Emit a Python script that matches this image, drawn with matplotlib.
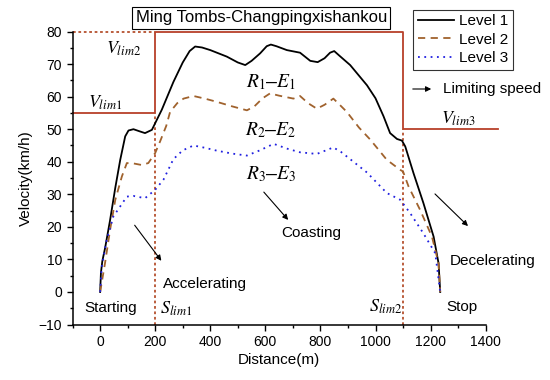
import matplotlib
matplotlib.use("Agg")
import matplotlib.pyplot as plt
from matplotlib.ticker import MultipleLocator

plt.rcParams['font.family'] = ['Liberation Sans', 'DejaVu Sans']
plt.rcParams['mathtext.fontset'] = 'stix'

# Data
x1 = [0, 3, 8, 18, 36, 55, 73, 91, 103, 121, 145, 163, 188, 206, 224, 266, 300, 325, 345, 370, 400, 460, 500,
      527, 550, 581, 605, 620, 640, 678, 726, 763, 790, 815, 835, 850, 870, 908, 969, 1000, 1029, 1053, 1078,
      1096, 1108, 1138, 1174, 1211, 1229, 1235]
y1 = [0, 6, 9.5, 13.5, 22, 32, 40.6, 47.8, 49.6, 50, 49.3, 48.8, 49.8, 52.9, 56, 64.5, 70.5, 74, 75.4, 75.1, 74.3, 72.3, 70.5,
      69.7, 71, 73.3, 75.5, 76, 75.5, 74.3, 73.5, 71, 70.6, 71.8, 73.5, 74, 72.5, 69.7, 63.5, 59.5, 54, 48.8, 47,
      46.5, 44.7, 36.5, 27.3, 17, 8.8, 0]

x2 = [0, 10, 18, 36, 55, 79, 97, 120, 151, 175, 200, 218, 240, 254, 280, 303, 339, 380, 424, 480, 533, 560, 590,
      617, 650, 702, 726, 755, 787, 815, 847, 870, 896, 940, 981, 1041, 1090, 1100, 1120, 1162, 1205, 1229, 1235]
y2 = [0, 5, 9, 19, 28.3, 35.5, 39.6, 39.5, 39, 39.6, 42.7, 46.3, 51, 55.3, 58, 59.4, 60.2, 59.4, 58.4, 57, 55.8, 57, 59.5,
      61, 60.3, 59.4, 60.2, 58, 56.3, 57.5, 59.4, 57.5, 55.3, 50.5, 46.8, 40.6, 37.5, 37, 32.4, 25.2, 17, 8.8, 0]

x3 = [0, 6, 24, 48, 73, 97, 121, 163, 200, 230, 266, 300, 339, 380, 424, 480, 533, 580, 630, 680, 726, 787, 820,
      847, 875, 908, 969, 1041, 1090, 1126, 1174, 1217, 1235]
y3 = [0, 7.8, 16, 23.2, 26.3, 29.3, 29.5, 28.8, 31.4, 34.5, 40.8, 43.5, 45, 44.3, 43.4, 42.5, 41.9, 43.5, 45.5, 44, 42.9, 42.4, 43.5,
      44.4, 43, 40.8, 36.7, 30.4, 28.3, 24.2, 18, 11.9, 0]

lim_x = [-100, 200, 200, 1100, 1100, 1445]
lim_y = [55, 55, 80, 80, 50, 50]
s_lim1, s_lim2 = 200, 1100
v_lim1, v_lim2, v_lim3 = 55, 80, 50

xticks = [0, 200, 400, 600, 800, 1000, 1200, 1400]
yticks = [-10, 0, 10, 20, 30, 40, 50, 60, 70, 80]

fig = plt.figure(figsize=(5.5, 3.8), dpi=100)
ax = fig.add_axes([0.132, 0.146, 0.751, 0.771])

limc = '#b8402a'
dotc = '#b5502e'
ax.plot(lim_x, lim_y, color=limc, lw=1.3, clip_on=False, zorder=2)
ax.plot([s_lim1, s_lim1], [-10, v_lim1], color=dotc, lw=1.3, ls=(0, (1.5, 1.5)), zorder=2)
ax.plot([s_lim2, s_lim2], [-10, v_lim3], color=dotc, lw=1.3, ls=(0, (1.5, 1.5)), zorder=2)
ax.plot([-100, s_lim1], [v_lim2, v_lim2], color=dotc, lw=1.3, ls=(0, (1.5, 1.5)), clip_on=False, zorder=2)

l1, = ax.plot(x1, y1, color='black', lw=1.3, label='Level 1', zorder=3)
l2, = ax.plot(x2, y2, color='#a0622d', lw=1.3, ls=(0, (4, 3)), label='Level 2', zorder=3)
l3, = ax.plot(x3, y3, color='#2020e0', lw=1.3, ls=(0, (1, 2.5)), label='Level 3', zorder=3)

ax.set_xlim(-100, 1400)
ax.set_ylim(-10, 80)
ax.set_xticks(xticks)
ax.set_yticks(yticks)
ax.xaxis.set_minor_locator(MultipleLocator(100))
ax.yaxis.set_minor_locator(MultipleLocator(5))
ax.tick_params(which='major', direction='out', length=4, width=1, labelsize=10)
ax.tick_params(which='minor', direction='out', length=2.5, width=1)
for s in ['top', 'right']:
    ax.spines[s].set_visible(False)
for s in ['left', 'bottom']:
    ax.spines[s].set_linewidth(1.1)

ax.set_xlabel('Distance(m)', fontsize=11, labelpad=3)
ax.set_ylabel('Velocity(km/h)', fontsize=11, labelpad=4)

fig.text(0.475, 0.953, 'Ming Tombs-Changpingxishankou', fontsize=12, ha='center', va='center',
         bbox=dict(boxstyle='square,pad=0.2', fc='white', ec='black', lw=0.8))

leg = fig.legend(handles=[l1, l2, l3], loc='upper right', bbox_to_anchor=(0.932, 0.975),
                 fontsize=11, frameon=True, fancybox=False, edgecolor='black',
                 handlelength=2.4, handletextpad=0.3, borderpad=0.3, labelspacing=0.3,
                 borderaxespad=0)
leg.get_frame().set_linewidth(0.8)

def ftx(px):
    return px / 550.0

def fty(py):
    return 1 - py / 380.0

# Labels
fig.text(ftx(124), fty(49), r'$V_{lim2}$', fontsize=13, ha='center', va='center')
fig.text(ftx(105), fty(103), r'$V_{lim1}$', fontsize=13, ha='center', va='center')
fig.text(ftx(458), fty(119), r'$V_{lim3}$', fontsize=13, ha='center', va='center')
fig.text(ftx(271), fty(82), r'$R_{1}$' + '\u2013' + r'$E_{1}$', fontsize=14, ha='center', va='center')
fig.text(ftx(271), fty(130), r'$R_{2}$' + '\u2013' + r'$E_{2}$', fontsize=14, ha='center', va='center')
fig.text(ftx(271), fty(174), r'$R_{3}$' + '\u2013' + r'$E_{3}$', fontsize=14, ha='center', va='center')
fig.text(ftx(176), fty(309), r'$S_{lim1}$', fontsize=13, ha='center', va='center')
fig.text(ftx(386), fty(307), r'$S_{lim2}$', fontsize=13, ha='center', va='center')

fig.text(ftx(111), fty(308), 'Starting', fontsize=11, ha='center', va='center')
fig.text(ftx(163), fty(284), 'Accelerating', fontsize=11, ha='left', va='center')
fig.text(ftx(311), fty(233), 'Coasting', fontsize=11, ha='center', va='center')
fig.text(ftx(450), fty(261), 'Decelerating', fontsize=11, ha='left', va='center')
fig.text(ftx(462), fty(307), 'Stop', fontsize=11, ha='center', va='center')
fig.text(ftx(443), fty(89), 'Limiting speed', fontsize=11, ha='left', va='center')

arrowkw = dict(arrowstyle='-|>', color='black', lw=0.8, mutation_scale=8)
def farrow(p0, p1):
    fig.add_artist(matplotlib.patches.FancyArrowPatch((ftx(p0[0]), fty(p0[1])), (ftx(p1[0]), fty(p1[1])),
                                                      transform=fig.transFigure, **arrowkw))

farrow((410, 89), (434, 89))
farrow((262, 190), (290, 222))
farrow((133, 223), (163, 263))
farrow((433, 192), (470, 228))

fig.savefig('out.png', dpi=100)
